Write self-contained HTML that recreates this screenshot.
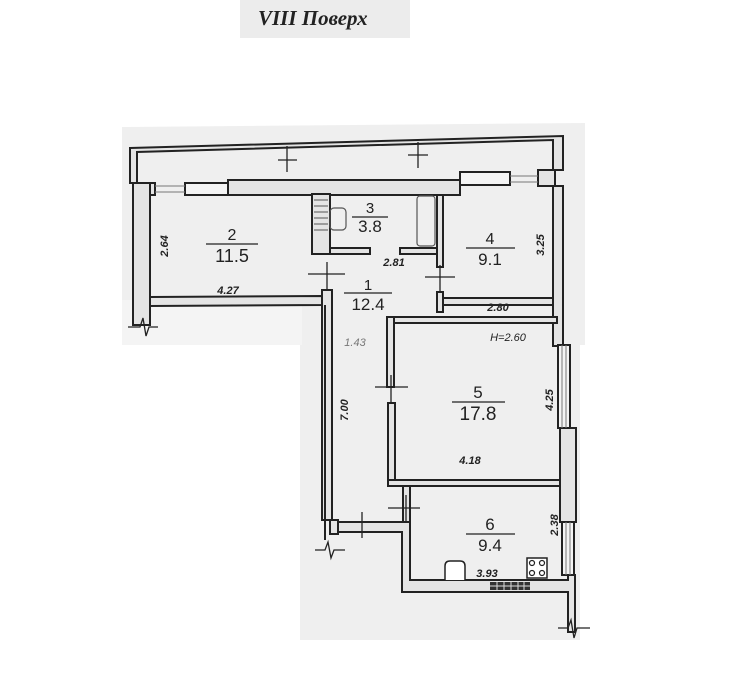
<!DOCTYPE html>
<html><head><meta charset="utf-8"><style>
html,body{margin:0;padding:0;background:#fff;}
svg{display:block;}
</style></head><body>
<svg width="731" height="699" viewBox="0 0 731 699" xmlns="http://www.w3.org/2000/svg">
<rect width="731" height="699" fill="#fff"/>
<rect x="240" y="0" width="170" height="38" fill="#ececec"/>
<text x="258" y="25" font-family="Liberation Serif, serif" font-style="italic" font-weight="bold" font-size="21" fill="#222">VIII Поверх</text>
<polygon points="122,127 585,123 585,345 580,345 580,640 585,640 300,640 300,345 122,345" fill="#efefef"/>
<rect x="122" y="300" width="180" height="45" fill="#f4f4f4"/>

<g fill="#e4e4e4" stroke="#222" stroke-width="2">
<path d="M130,148 L563,136 L563,170 L553,170 L553,140 L137,152 L137,183 L130,183 Z"/>
<rect x="228" y="180" width="232" height="15"/>
<rect x="137" y="183" width="18" height="12"/>
<rect x="185" y="183" width="43" height="12" fill="#f4f4f4"/>
<rect x="460" y="172" width="50" height="13" fill="#f4f4f4"/>
<rect x="538" y="170" width="17" height="16"/>
<rect x="553" y="186" width="10" height="160"/>
<rect x="133" y="183" width="17" height="142"/>
<path d="M150,297 L322,296 L322,305 L150,306 Z"/>
<rect x="322" y="290" width="10" height="230"/>
<path d="M325,305 L325,540" fill="none"/>
<rect x="312" y="194" width="18" height="60"/>
<rect x="330" y="248" width="40" height="6"/>
<rect x="400" y="248" width="38" height="6"/>
<rect x="437" y="195" width="6" height="72"/>
<rect x="437" y="292" width="6" height="20"/>
<rect x="443" y="298" width="110" height="7"/>
<rect x="387" y="317" width="170" height="6"/>
<rect x="387" y="317" width="7" height="70"/>
<rect x="388" y="403" width="7" height="82"/>
<rect x="388" y="480" width="178" height="6"/>
<rect x="558" y="345" width="12" height="83" fill="#f4f4f4"/>
<rect x="560" y="428" width="16" height="94"/>
<rect x="562" y="522" width="12" height="53" fill="#f4f4f4"/>
<rect x="403" y="486" width="7" height="40"/>
<path d="M338,522 L410,522 L410,580 L568,580 L568,575 L575,575 L575,632 L568,632 L568,592 L402,592 L402,532 L338,532 Z"/>
<rect x="330" y="520" width="8" height="14"/>
</g>
<rect x="490" y="582" width="40" height="8" fill="#333"/>
<g stroke="#ddd" stroke-width="1"><line x1="497" y1="582" x2="497" y2="590"/><line x1="504" y1="582" x2="504" y2="590"/><line x1="511" y1="582" x2="511" y2="590"/><line x1="518" y1="582" x2="518" y2="590"/><line x1="524" y1="582" x2="524" y2="590"/><line x1="490" y1="586" x2="530" y2="586"/></g>
<rect x="527" y="558" width="20" height="20" fill="#fff" stroke="#222" stroke-width="1.5"/>
<g fill="none" stroke="#222" stroke-width="1.2"><circle cx="532" cy="563" r="2.5"/><circle cx="542" cy="563" r="2.5"/><circle cx="532" cy="573" r="2.5"/><circle cx="542" cy="573" r="2.5"/></g>
<path d="M445,580 L445,566 Q445,561 450,561 L460,561 Q465,561 465,566 L465,580" fill="#fff" stroke="#222" stroke-width="1.5"/>
<rect x="417" y="196" width="18" height="50" rx="3" fill="none" stroke="#555" stroke-width="1.2"/>
<rect x="330" y="208" width="16" height="22" rx="4" fill="none" stroke="#555" stroke-width="1.2"/>
<g stroke="#555" stroke-width="1"><line x1="314" y1="200" x2="328" y2="200"/><line x1="314" y1="206" x2="328" y2="206"/><line x1="314" y1="212" x2="328" y2="212"/><line x1="314" y1="218" x2="328" y2="218"/><line x1="314" y1="224" x2="328" y2="224"/><line x1="314" y1="230" x2="328" y2="230"/></g>
<g stroke="#777" stroke-width="1">
<line x1="155" y1="186" x2="185" y2="186"/><line x1="155" y1="192" x2="185" y2="192"/>
<line x1="510" y1="176" x2="538" y2="176"/><line x1="510" y1="182" x2="538" y2="182"/>
<line x1="562" y1="345" x2="562" y2="428"/><line x1="566" y1="345" x2="566" y2="428"/>
<line x1="566" y1="522" x2="566" y2="575"/><line x1="570" y1="522" x2="570" y2="575"/>
</g>
<g stroke="#222" stroke-width="1.3" fill="none">
<line x1="287" y1="146" x2="287" y2="172"/><line x1="278" y1="160" x2="297" y2="160"/>
<line x1="418" y1="142" x2="418" y2="168"/><line x1="408" y1="155" x2="428" y2="155"/>
<line x1="308" y1="274" x2="345" y2="274"/><line x1="327" y1="262" x2="327" y2="290"/>
<line x1="425" y1="277" x2="455" y2="277"/><line x1="440" y1="265" x2="440" y2="292"/>
<line x1="375" y1="387" x2="408" y2="387"/><line x1="391" y1="375" x2="391" y2="403"/>
<line x1="388" y1="508" x2="420" y2="508"/><line x1="406" y1="495" x2="406" y2="522"/>
<line x1="362" y1="512" x2="362" y2="538"/>
<path d="M315,550 L325,550 L328,542 L331,558 L334,550 L345,550"/>
<path d="M128,327 L140,327 L143,318 L146,336 L149,327 L158,327"/>
<path d="M558,628 L568,628 L571,620 L574,638 L577,628 L590,628"/>
</g>
<g font-family="Liberation Sans, sans-serif" fill="#222" text-anchor="middle">
<text x="232" y="240" font-size="16">2</text><line x1="206" y1="244" x2="258" y2="244" stroke="#222" stroke-width="1.3"/>
<text x="232" y="262" font-size="18">11.5</text>
<text x="370" y="213" font-size="15">3</text><line x1="352" y1="217" x2="388" y2="217" stroke="#222" stroke-width="1.3"/>
<text x="370" y="232" font-size="17">3.8</text>
<text x="490" y="244" font-size="16">4</text><line x1="466" y1="248" x2="515" y2="248" stroke="#222" stroke-width="1.3"/>
<text x="490" y="265" font-size="17">9.1</text>
<text x="368" y="290" font-size="15">1</text><line x1="344" y1="293" x2="392" y2="293" stroke="#222" stroke-width="1.3"/>
<text x="368" y="310" font-size="17">12.4</text>
<text x="478" y="398" font-size="17">5</text><line x1="452" y1="402" x2="505" y2="402" stroke="#222" stroke-width="1.3"/>
<text x="478" y="420" font-size="19">17.8</text>
<text x="490" y="530" font-size="17">6</text><line x1="466" y1="534" x2="515" y2="534" stroke="#222" stroke-width="1.3"/>
<text x="490" y="551" font-size="17">9.4</text>
<g font-size="11" font-style="italic" font-weight="bold">
<text x="228" y="294">4.27</text>
<text x="394" y="266">2.81</text>
<text x="498" y="311">2.80</text>
<text x="470" y="464">4.18</text>
<text x="487" y="577">3.93</text>
<text x="355" y="346" font-weight="normal" fill="#777">1.43</text>
<text x="508" y="341" font-weight="normal">H=2.60</text>
<text transform="translate(168,246) rotate(-90)">2.64</text>
<text transform="translate(544,245) rotate(-90)">3.25</text>
<text transform="translate(348,410) rotate(-90)">7.00</text>
<text transform="translate(553,400) rotate(-90)">4.25</text>
<text transform="translate(558,525) rotate(-90)">2.38</text>
</g>
</g>
</svg>
</body></html>
